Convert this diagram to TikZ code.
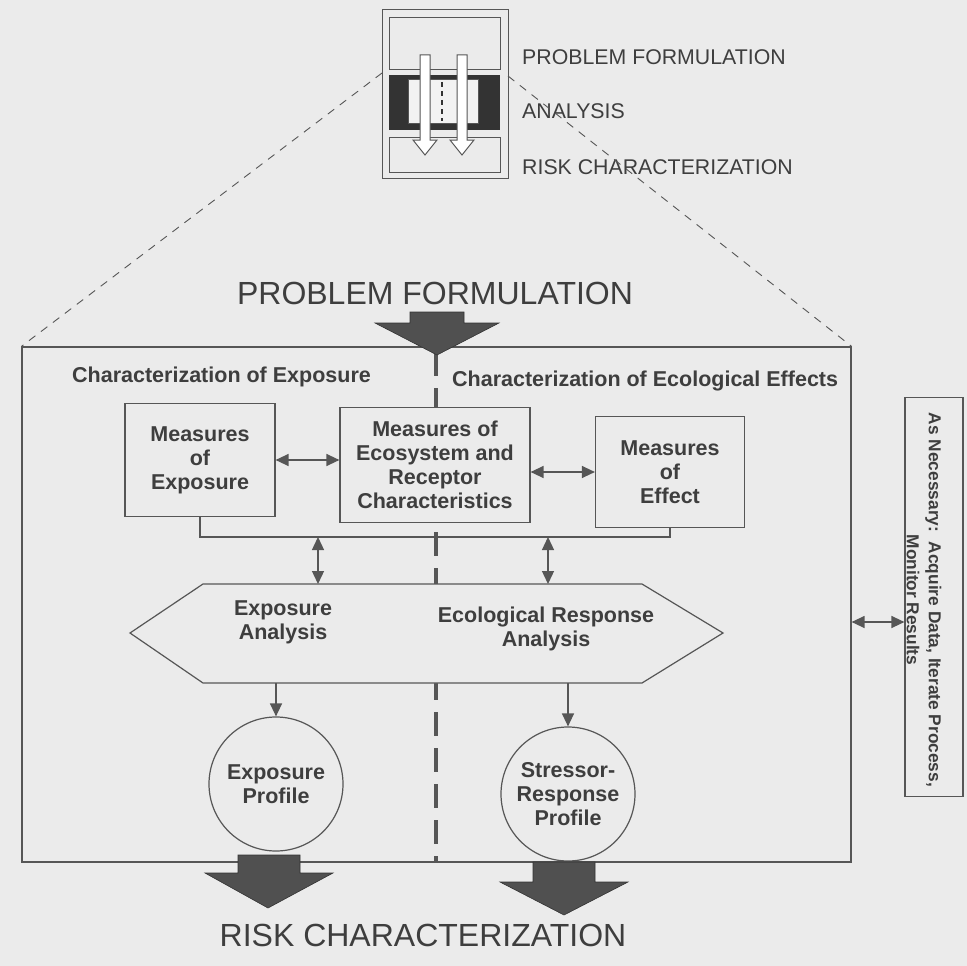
\documentclass[tikz,border=0pt]{standalone}
\usepackage{fontspec}
\setmainfont{Liberation Sans}
\usetikzlibrary{arrows.meta}
\definecolor{bg}{HTML}{EBEBEB}
\definecolor{ln}{HTML}{565656}
\definecolor{tx}{HTML}{3E3E3E}
\definecolor{blk}{HTML}{505050}
\definecolor{dk}{HTML}{333333}
\definecolor{lt}{HTML}{F2F2F2}
\tikzset{
  every node/.style={text=tx, inner sep=0pt},
  boxtxt/.style={font=\fontsize{21.5}{24}\selectfont\bfseries, align=center},
  mbox/.style={draw=ln, line width=1.2pt, fill=bg, boxtxt},
  circ/.style={draw=ln, line width=1.2pt, fill=bg, circle, minimum size=134pt, boxtxt},
  dbl/.style={draw=ln, line width=1.3pt, {Triangle[length=13pt,width=12pt]}-{Triangle[length=13pt,width=12pt]}},
  sgl/.style={draw=ln, line width=1.3pt, -{Triangle[length=13pt,width=12pt]}},
  zoomline/.style={draw=ln, line width=0.9pt, dash pattern=on 8pt off 7pt},
  midline/.style={draw=ln, line width=3.2pt, dash pattern=on 24pt off 12pt},
  bigtitle/.style={font=\fontsize{32}{36}\selectfont},
  smalltitle/.style={font=\fontsize{21.3}{24}\selectfont, anchor=west},
  blockarrow/.style={fill=blk, draw=dk, line width=0.6pt},
  iconln/.style={draw=ln, line width=1pt},
}
\begin{document}
\begin{tikzpicture}[x=1pt,y=-1pt]
\useasboundingbox (0,0) rectangle (967,966);
\fill[bg] (0,0) rectangle (967,966);

% ---------- small icon ----------
\draw[iconln] (382,10) rectangle (508,178);
\draw[iconln] (389,18) rectangle (500,70);
\fill[dk] (389,75) rectangle (500,130);
\draw[iconln, fill=lt] (408,80) rectangle (478,123);
\draw[dk, line width=1.5pt, dash pattern=on 5pt off 4pt] (442,82) -- (442,121);
\draw[iconln] (389,137) rectangle (500,172);
\draw[iconln, fill=white] (420,55) -- (430,55) -- (430,140) -- (437,140) -- (425,155) -- (413,140) -- (420,140) -- cycle;
\draw[iconln, fill=white] (457,55) -- (467,55) -- (467,140) -- (474,140) -- (462,155) -- (450,140) -- (457,140) -- cycle;
\coordinate (icL) at (382,73);
\coordinate (icR) at (508,76);
\node[smalltitle] (l1) at (522,57) {PROBLEM FORMULATION};
\node[smalltitle] (l2) at (522,111) {ANALYSIS};
\node[smalltitle] (l3) at (522,167) {RISK CHARACTERIZATION};

% ---------- main frame ----------
\node[bigtitle] (pf) at (435,293) {PROBLEM FORMULATION};
\node[draw=ln, line width=1.2pt, minimum width=829pt, minimum height=515pt] (main) at (436.5,604.5) {};
\draw[zoomline] (icL) -- (main.north west);
\draw[zoomline] (icR) -- (main.north east);

% centre dashed divider
\coordinate (dtop) at (436,352);
\draw[midline] (dtop) -- (436,862);

% headings
\node[boxtxt, anchor=west] (hexp) at (72,377) {Characterization of Exposure};
\node[boxtxt, anchor=west] (heco) at (452,381) {Characterization of Ecological Effects};

% measure boxes
\node[mbox, minimum width=150pt, minimum height=113pt] (moexp) at (200,460) {Measures\\of\\Exposure};
\node[mbox, minimum width=190pt, minimum height=115pt] (moeco) at (435,465) {Measures of\\Ecosystem and\\Receptor\\Characteristics};
\node[mbox, minimum width=149pt, minimum height=111pt] (moeff) at (670,472) {Measures\\of\\Effect};
\draw[dbl] (moexp.east) -- (moexp.east -| moeco.west);
\draw[dbl] (moeff.west -| moeco.east) -- (moeff.west);

% bracket
\coordinate (br) at (436,537);
\draw[draw=ln, line width=1.2pt] (moexp.south) |- (br) -| (moeff.south);

% hexagon
\coordinate (hL) at (130,633);
\coordinate (hTL) at (203,584);
\coordinate (hTR) at (642,584);
\coordinate (hR) at (723,633);
\coordinate (hBR) at (642,683);
\coordinate (hBL) at (203,683);
\draw[draw=ln, line width=1.2pt, fill=bg] (hL) -- (hTL) -- (hTR) -- (hR) -- (hBR) -- (hBL) -- cycle;
\node[boxtxt] (expa) at (283,622) {Exposure\\Analysis};
\node[boxtxt] (ecoa) at (546,629) {Ecological Response\\Analysis};
\coordinate (b1) at (318,537);
\coordinate (b2) at (548,537);
\draw[dbl] (b1) -- (b1 |- hTL);
\draw[dbl] (b2) -- (b2 |- hTR);

% profiles
\node[circ] (expp) at (276,784) {Exposure\\Profile};
\node[circ] (srp) at (568,794) {Stressor-\\Response\\Profile};
\draw[sgl] (expp.north |- hBL) -- (expp.north);
\draw[sgl] (srp.north |- hBR) -- (srp.north);

% block arrows
\fill[blockarrow] (410,312) -- (464,312) -- (464,323) -- (499,323) -- (437,355) -- (375,323) -- (410,323) -- cycle;
\fill[blockarrow] (238,855) -- (300,855) -- (300,873) -- (333,873) -- (268,908) -- (205,873) -- (238,873) -- cycle;
\fill[blockarrow] (533,862) -- (595,862) -- (595,882) -- (628,882) -- (564,915) -- (500,882) -- (533,882) -- cycle;
\node[bigtitle] (rc) at (423,935) {RISK CHARACTERIZATION};

% side box
\node[draw=ln, line width=1.2pt, minimum width=58pt, minimum height=399pt] (side) at (934,597) {};
\node[font=\fontsize{17.3}{22}\selectfont\bfseries, align=center, rotate=-90] (sidetxt) at (924,600) {As Necessary:\ \ Acquire Data, Iterate Process,\\Monitor Results};
\draw[dbl] (main.east |- 0,622) -- (side.west |- 0,622);
\end{tikzpicture}
\end{document}
